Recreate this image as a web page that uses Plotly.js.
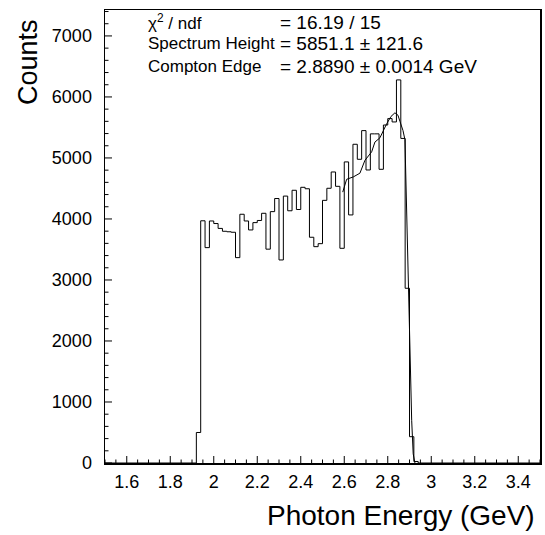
<!DOCTYPE html>
<html>
<head>
<meta charset="utf-8">
<script src="https://cdn.plot.ly/plotly-3.0.1.min.js"></script>
<style>html,body{margin:0;padding:0;background:#fff;}#chart{width:545px;height:535px;}</style>
</head>
<body>
<div id="chart"></div>
<script>
// Histogram: first bin low edge, bin width (GeV) and counts per bin
const binEdgeStart = 1.92;
const binWidth = 0.02;
const counts = [500, 3970, 3530, 3967, 3925, 3845, 3798, 3790, 3782, 3366,
  4077, 3967, 3820, 3940, 3975, 4093, 3505, 4120, 4335, 3328,
  4375, 4134, 4470, 4155, 4519, 4495, 3700, 3546, 3595, 4305,
  4503, 4770, 4535, 3519, 4935, 4066, 5224, 4978, 5448, 4803,
  5395, 5395, 4814, 5540, 5645, 5590, 6279, 5320, 2864, 431, 25];

// Fit curve
const fitEnergy = [2.593, 2.611, 2.642, 2.672, 2.695, 2.726, 2.741, 2.764, 2.795, 2.815,
  2.833, 2.847, 2.856, 2.870, 2.879, 2.886, 2.894, 2.902, 2.910, 2.917, 2.925];
const fitCounts = [4440, 4650, 4690, 4750, 4960, 5100, 5260, 5330, 5560, 5680,
  5740, 5700, 5600, 5450, 5300, 4300, 2870, 1600, 700, 150, 0];

const statLabels = ['χ<sup>2</sup> / ndf', 'Spectrum Height', 'Compton Edge'];
const statValues = ['= 16.19 / 15', '= 5851.1 ± 121.6', '= 2.8890 ± 0.0014 GeV'];

const xRange = [1.5, 3.5];
const yRange = [0, 7425];
const xMajorStep = 0.2, xMinorStep = 0.05;
const yMajorStep = 1000, yMinorStep = 200;

// build step outline
const hx = [xRange[0]];
const hy = [0];
for (let i = 0; i < counts.length; i++) {
  hx.push(binEdgeStart + i * binWidth);
  hy.push(counts[i]);
}
hx.push(binEdgeStart + counts.length * binWidth);
hy.push(0);
hx.push(xRange[1]);
hy.push(0);

const FONT = 'Liberation Sans, Arial, sans-serif';

const traces = [
  {x: hx, y: hy, type: 'scatter', mode: 'lines', line: {shape: 'hv', color: '#000', width: 1}, hoverinfo: 'skip'},
  {x: fitEnergy, y: fitCounts, type: 'scatter', mode: 'lines', line: {color: '#000', width: 1}, hoverinfo: 'skip'}
];

// inward tick marks (ROOT style), placed on the axis values, length in pixels
const shapes = [];
const nx = Math.round((xRange[1] - xRange[0]) / xMinorStep);
for (let i = 0; i <= nx; i++) {
  const v = +(xRange[0] + i * xMinorStep).toFixed(4);
  const major = Math.abs(v / xMajorStep - Math.round(v / xMajorStep)) < 1e-6;
  shapes.push({type: 'line', xref: 'x', yref: 'y', ysizemode: 'pixel', yanchor: yRange[0],
    x0: v, x1: v, y0: 0, y1: major ? 7 : 3.5, line: {color: '#000', width: 1}});
}
const ny = Math.floor((yRange[1] - yRange[0]) / yMinorStep);
for (let i = 0; i <= ny; i++) {
  const v = yRange[0] + i * yMinorStep;
  const major = v % yMajorStep === 0;
  shapes.push({type: 'line', xref: 'x', yref: 'y', xsizemode: 'pixel', xanchor: xRange[0],
    y0: v, y1: v, x0: 0, x1: major ? 7 : 3.5, line: {color: '#000', width: 1}});
}

const statY = [0.9735, 0.925, 0.876];
const annotations = [];
for (let i = 0; i < statLabels.length; i++) {
  annotations.push({xref: 'paper', yref: 'paper', x: (146 - 105) / 435, y: statY[i], xanchor: 'left', yanchor: 'middle',
    text: statLabels[i], showarrow: false, font: {family: FONT, size: 17, color: '#000'}});
  annotations.push({xref: 'paper', yref: 'paper', x: (278 - 105) / 435, y: statY[i], xanchor: 'left', yanchor: 'middle',
    text: statValues[i], showarrow: false, font: {family: FONT, size: 19, color: '#000'}});
}
annotations.push({xref: 'paper', yref: 'paper', x: 0.993, y: -0.1148, xanchor: 'right', yanchor: 'middle',
  text: 'Photon Energy (GeV)', showarrow: false, font: {family: FONT, size: 28, color: '#000'}});
annotations.push({xref: 'paper', yref: 'paper', x: -0.177, y: 0.885, xanchor: 'center', yanchor: 'middle', textangle: -90,
  text: 'Counts', showarrow: false, font: {family: FONT, size: 27, color: '#000'}});

const layout = {
  width: 545, height: 535,
  margin: {l: 105, r: 5, t: 10, b: 72},
  paper_bgcolor: '#fff', plot_bgcolor: '#fff',
  showlegend: false,
  font: {family: FONT, color: '#000'},
  xaxis: {
    range: xRange, tickmode: 'linear', dtick: xMajorStep, tick0: 1.6, ticks: '',
    showline: true, linecolor: '#000', linewidth: 1.5, mirror: true, showgrid: false, zeroline: false,
    tickfont: {family: FONT, size: 18, color: '#000'}, ticklabelstandoff: 2
  },
  yaxis: {
    range: yRange, tickmode: 'linear', dtick: yMajorStep, tick0: 0, ticks: '',
    showline: true, linecolor: '#000', linewidth: 1.5, mirror: true, showgrid: false, zeroline: false,
    tickfont: {family: FONT, size: 18, color: '#000'}, ticklabelstandoff: 8
  },
  shapes: shapes,
  annotations: annotations
};

Plotly.newPlot('chart', traces, layout, {staticPlot: true, displayModeBar: false});
</script>
</body>
</html>
